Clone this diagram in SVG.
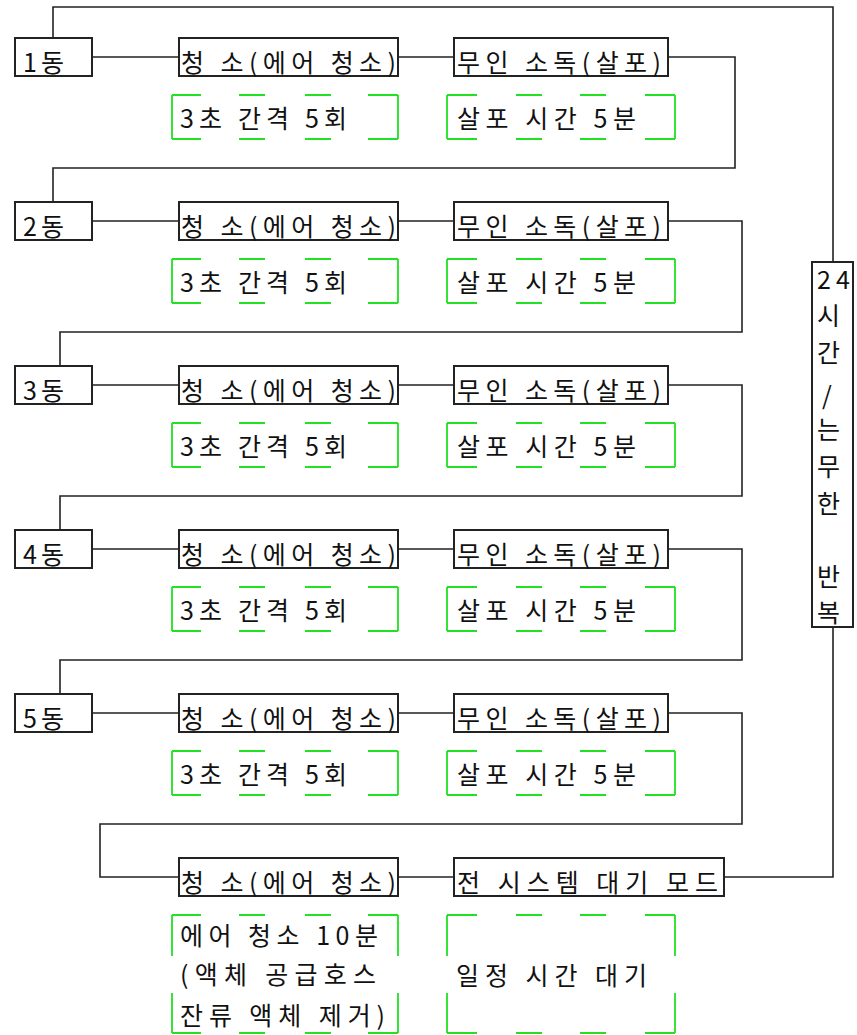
<svg xmlns="http://www.w3.org/2000/svg" width="857" height="1035" viewBox="0 0 857 1035">
<style>
.bx{fill:#fff;stroke:#222;stroke-width:2}
.ln{fill:none;stroke:#222;stroke-width:1.6}
.gr{fill:none;stroke:#22e022;stroke-width:1.8}
text{font-family:"Noto Sans CJK KR","Noto Sans",sans-serif;font-size:25px;fill:#111}
</style>
<defs>
<path id="gL" d="M172 0V44M398 0V44M172 0H201M239 0H265M305 0H331M368 0H398M172 44H201M239 44H265M305 44H331M368 44H398"/>
<path id="gR" d="M447 0V44M675 0V44M447 0H477M516 0H542M580 0H606M645 0H675M447 44H477M516 44H542M580 44H606M645 44H675"/>
</defs>
<rect width="857" height="1035" fill="#fff"/>
<g id="connectors">
<path class="ln" d="M53 38V7H833V262"/>
<path class="ln" d="M833 627V877H724"/>
<path class="ln" d="M92 57H179M398 57H454M668 57H735V168H53V202"/>
<path class="ln" d="M92 221H179M398 221H454M668 221H742V332H60V366"/>
<path class="ln" d="M92 385H179M398 385H454M668 385H742V496H60V530"/>
<path class="ln" d="M92 549H179M398 549H454M668 549H742V660H60V694"/>
<path class="ln" d="M92 713H179M398 713H454M668 713H742V824H100V877H179"/>
<path class="ln" d="M398 877H454"/>
</g>
<g id="row1">
<g id="dong1"><rect class="bx" x="15" y="38" width="77" height="38"/><text x="23" y="72" textLength="41">1동</text></g>
<g id="clean1"><rect class="bx" x="179" y="38" width="219" height="38"/><text x="181" y="72" textLength="215">청 소(에어 청소)</text></g>
<g id="dis1"><rect class="bx" x="454" y="38" width="214" height="38"/><text x="457" y="72" textLength="204">무인 소독(살포)</text></g>
<g id="note1a"><use href="#gL" class="gr" y="95"/><text x="180" y="128" textLength="167">3초 간격 5회</text></g>
<g id="note1b"><use href="#gR" class="gr" y="95"/><text x="457" y="128" textLength="179">살포 시간 5분</text></g>
</g>
<g id="row2">
<g id="dong2"><rect class="bx" x="15" y="202" width="77" height="38"/><text x="23" y="236" textLength="41">2동</text></g>
<g id="clean2"><rect class="bx" x="179" y="202" width="219" height="38"/><text x="181" y="236" textLength="215">청 소(에어 청소)</text></g>
<g id="dis2"><rect class="bx" x="454" y="202" width="214" height="38"/><text x="457" y="236" textLength="204">무인 소독(살포)</text></g>
<g id="note2a"><use href="#gL" class="gr" y="259"/><text x="180" y="292" textLength="167">3초 간격 5회</text></g>
<g id="note2b"><use href="#gR" class="gr" y="259"/><text x="457" y="292" textLength="179">살포 시간 5분</text></g>
</g>
<g id="row3">
<g id="dong3"><rect class="bx" x="15" y="366" width="77" height="38"/><text x="23" y="400" textLength="41">3동</text></g>
<g id="clean3"><rect class="bx" x="179" y="366" width="219" height="38"/><text x="181" y="400" textLength="215">청 소(에어 청소)</text></g>
<g id="dis3"><rect class="bx" x="454" y="366" width="214" height="38"/><text x="457" y="400" textLength="204">무인 소독(살포)</text></g>
<g id="note3a"><use href="#gL" class="gr" y="423"/><text x="180" y="456" textLength="167">3초 간격 5회</text></g>
<g id="note3b"><use href="#gR" class="gr" y="423"/><text x="457" y="456" textLength="179">살포 시간 5분</text></g>
</g>
<g id="row4">
<g id="dong4"><rect class="bx" x="15" y="530" width="77" height="38"/><text x="23" y="564" textLength="41">4동</text></g>
<g id="clean4"><rect class="bx" x="179" y="530" width="219" height="38"/><text x="181" y="564" textLength="215">청 소(에어 청소)</text></g>
<g id="dis4"><rect class="bx" x="454" y="530" width="214" height="38"/><text x="457" y="564" textLength="204">무인 소독(살포)</text></g>
<g id="note4a"><use href="#gL" class="gr" y="587"/><text x="180" y="620" textLength="167">3초 간격 5회</text></g>
<g id="note4b"><use href="#gR" class="gr" y="587"/><text x="457" y="620" textLength="179">살포 시간 5분</text></g>
</g>
<g id="row5">
<g id="dong5"><rect class="bx" x="15" y="694" width="77" height="38"/><text x="23" y="728" textLength="41">5동</text></g>
<g id="clean5"><rect class="bx" x="179" y="694" width="219" height="38"/><text x="181" y="728" textLength="215">청 소(에어 청소)</text></g>
<g id="dis5"><rect class="bx" x="454" y="694" width="214" height="38"/><text x="457" y="728" textLength="204">무인 소독(살포)</text></g>
<g id="note5a"><use href="#gL" class="gr" y="751"/><text x="180" y="784" textLength="167">3초 간격 5회</text></g>
<g id="note5b"><use href="#gR" class="gr" y="751"/><text x="457" y="784" textLength="179">살포 시간 5분</text></g>
</g>
<g id="row6">
<g id="clean6"><rect class="bx" x="179" y="858" width="219" height="38"/><text x="181" y="892" textLength="215">청 소(에어 청소)</text></g>
<g id="standby"><rect class="bx" x="454" y="858" width="270" height="38"/><text x="457" y="892" textLength="261">전 시스템 대기 모드</text></g>
<g id="note6a">
<path class="gr" d="M172 915V956M172 993V1033M398 915V956M398 993V1033M172 915H201M239 915H265M305 915H331M368 915H398M172 1033H201M239 1033H265M305 1033H331M368 1033H398"/>
<text x="180" y="945" textLength="198">에어 청소 10분</text>
<text x="180" y="984" textLength="196">(액체 공급호스</text>
<text x="180" y="1025" textLength="205">잔류 액체 제거)</text>
</g>
<g id="note6b">
<path class="gr" d="M447 915V956M447 993V1033M675 915V956M675 993V1033M447 915H477M516 915H542M580 915H606M645 915H675M447 1033H477M516 1033H542M580 1033H606M645 1033H675"/>
<text x="456" y="985" textLength="191">일정 시간 대기</text>
</g>
</g>
<g id="repeat">
<rect class="bx" x="812" y="262" width="41" height="365"/>
<text x="817" y="289" textLength="33">24</text>
<text x="817" y="325">시</text>
<text x="817" y="362">간</text>
<text x="822" y="405">/</text>
<text x="817" y="439">는</text>
<text x="817" y="476">무</text>
<text x="817" y="513">한</text>
<text x="817" y="586">반</text>
<text x="817" y="622">복</text>
</g>
</svg>
